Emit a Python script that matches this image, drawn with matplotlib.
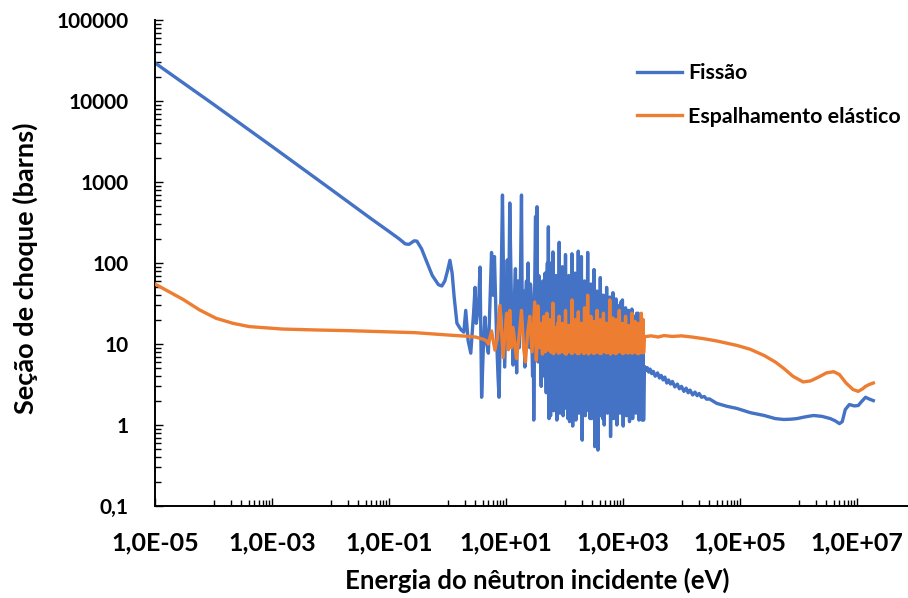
import numpy as np
import matplotlib
matplotlib.use("Agg")
import matplotlib.pyplot as plt
from matplotlib.ticker import FixedLocator, FuncFormatter, NullFormatter

plt.rcParams["font.family"] = ["Lato", "DejaVu Sans"]
plt.rcParams["font.weight"] = "bold"
plt.rcParams["path.simplify"] = False

# ---------------- U-235 cross sections (barns) vs neutron energy (eV) ----------------
# Fission: thermal / epithermal part
fis_thermal_E = [1e-5, 1e-4, 1e-3, 1e-2, 0.05, 0.1, 0.15, 0.19, 0.22, 0.27, 0.30, 0.36,
                 0.45, 0.55, 0.70, 0.80, 0.90, 1.0, 1.1, 1.2, 1.3, 1.45, 1.7, 1.9]
fis_thermal = [29500, 9100, 2750, 820, 350, 245, 198, 172, 170, 188, 186, 150,
               100, 70, 54, 52, 60, 80, 108, 75, 38, 18, 15, 14]

# Fission: isolated resonances (2 - 55 eV)
fis_lowres_E = [2.05, 2.25, 2.5, 2.8, 2.96, 3.1, 3.4, 3.6, 3.83, 4.1,
                4.36, 4.7, 5.0, 5.3, 5.66, 6.0, 6.35, 6.9, 7.3, 7.6,
                8.2, 8.7, 9.5, 10.5, 11.1, 11.6, 12.4,
                13.2, 13.8, 14.5, 14.9, 15.2, 15.6, 16.0, 16.4, 16.8, 17.5,
                18.4, 18.9, 19.3, 20.0, 21.0, 21.6, 22.4, 23.1, 23.9, 24.6,
                25.5, 26.2, 27.0, 27.7, 28.5, 29.2, 29.8, 31.0, 32.0, 32.5,
                33.0, 33.9, 34.6, 35.3, 36.4, 37.5, 38.7, 40.0, 41.2, 42.5,
                43.7, 45.0, 46.5, 47.5, 48.7, 49.8, 51.0, 52.0, 53.0, 53.8,
                54.5]
fis_lowres = [26, 11, 7.7, 25, 50, 18, 30, 89, 2.2, 9,
              21.5, 10, 7.7, 30, 135, 40, 120, 12, 4, 2.2,
              40, 690, 5.2, 109, 25, 550, 30,
              5.5, 30, 85, 12, 4.4, 25, 60, 15, 9, 40,
              690, 30, 20, 45, 5.2, 35, 60, 12, 100, 20,
              9, 55, 40, 10, 4, 25, 1.15, 60, 375, 20,
              15, 495, 12, 6, 70, 40, 10, 3.0, 45, 60,
              9, 4, 75, 15, 2.5, 50, 100, 12, 280, 20,
              1.2]

# Dense resolved-resonance region (56 eV - 2.25 keV), shared energy grid
res_E = [56, 57.8, 59.6, 61.4, 63.4, 65.4, 67.4, 69.6, 71.8, 74.0,
         76.3, 78.8, 81.2, 83.8, 86.4, 89.2, 92.0, 94.9, 97.9, 101,
         104, 107.5, 111, 114.5, 118, 122, 126, 130, 134, 138,
         142.5, 147, 151.5, 156.5, 161.5, 166.5, 172, 177, 183, 188.5,
         194.5, 200.5, 207, 213.5, 220, 227, 234, 241.5, 249, 257,
         265, 273.5, 282, 291, 300, 309.5, 319.5, 329.5, 340, 350.5,
         361.5, 373, 385, 397, 409.5, 422.5, 436, 449.5, 463.5, 478,
         493.5, 509, 525, 541.5, 558.5, 576, 594.5, 613, 632.5, 652.5,
         673, 694, 716, 738.5, 762, 786, 811, 836.5, 863, 890,
         918, 947, 977, 1008, 1040, 1072, 1106, 1141, 1177, 1214,
         1252, 1292, 1333, 1375, 1418, 1463, 1509, 1556, 1605, 1656,
         1708, 1762, 1818, 1875, 1934, 1995, 2058, 2123, 2190, 2250]
fis_res = [100, 1.3, 60, 2.0, 137, 1.5, 45, 1.8, 70, 1.15,
           55, 1.6, 180, 1.4, 65, 1.9, 90, 1.3, 50, 1.7,
           127, 1.6, 60, 1.2, 70, 1.1, 48, 1.9, 130, 0.97,
           55, 1.5, 75, 1.15, 60, 1.8, 140, 1.4, 45, 1.6,
           120, 0.65, 50, 1.5, 60, 1.3, 40, 1.7, 135, 1.5,
           48, 1.2, 55, 1.2, 42, 1.8, 83, 0.54, 38, 1.4,
           45, 0.49, 35, 1.6, 66, 1.3, 40, 1.2, 40, 1.0,
           33, 1.7, 50, 1.4, 36, 1.5, 38, 0.72, 30, 1.6,
           43, 1.2, 30, 1.7, 36, 1.0, 28, 1.5, 30, 1.4,
           33, 1.8, 35, 0.97, 26, 1.5, 28, 1.3, 25, 1.6,
           26, 1.1, 22, 1.6, 27, 1.2, 20, 1.7, 22, 1.4,
           24, 1.5, 24, 1.15, 19, 1.6, 21.5, 1.15, 20, 1.15]
ela_res = [20, 8.0, 15, 7.8, 32, 7.6, 14, 8.2, 16, 8.3,
           18, 7.7, 22, 7.8, 15, 8.1, 18, 8.1, 16, 7.6,
           26, 7.5, 16, 8.0, 17, 8.2, 15, 7.7, 35, 7.7,
           17, 8.1, 20, 8.0, 16, 7.6, 25, 7.6, 18, 8.0,
           18, 8.2, 17, 7.6, 28, 7.8, 16, 8.0, 40, 7.5,
           18, 7.9, 22, 8.1, 17, 7.7, 19, 7.7, 16, 8.0,
           26, 8.0, 17, 7.7, 20, 7.6, 16, 8.1, 24, 8.2,
           18, 7.8, 18, 7.8, 16, 8.0, 35, 7.5, 19, 7.9,
           21, 8.0, 16, 7.6, 20, 7.7, 17, 8.1, 26, 8.1,
           16, 7.8, 18, 7.6, 17, 8.0, 22, 7.9, 16, 7.7,
           17, 8.2, 16, 7.8, 24, 7.7, 17, 8.0, 19, 8.0,
           16, 7.6, 18, 7.6, 16, 8.1, 24, 7.8, 20, 7.8]

# Fission: unresolved and fast region
fis_fast_E = [2330, 2450, 2600, 2750, 2900, 3100, 3300, 3550, 3900, 4200,
              4500, 4850, 5200, 5600, 6000, 6500, 7000, 7700, 8500, 9200,
              1.0e4, 1.1e4, 1.2e4, 1.3e4, 1.4e4, 1.55e4, 1.7e4, 1.85e4, 2.0e4, 2.2e4,
              2.45e4, 2.7e4, 3.0e4, 4.0e4, 6.0e4, 8.9e4,
              1.5e5, 2.6e5, 4.0e5, 5.6e5, 7.5e5, 9.4e5, 1.3e6, 1.8e6, 2.5e6, 3.5e6,
              4.3e6, 5.0e6, 5.6e6, 6.3e6, 7.4e6, 9.0e6, 1.05e7, 1.2e7, 1.4e7, 1.6e7,
              1.9e7]
fis_fast = [5.3, 4.7, 5.1, 4.5, 4.9, 4.3, 4.6, 4.0, 4.4, 3.8,
            4.1, 3.6, 3.9, 3.3, 3.6, 3.2, 3.45, 2.95, 3.2, 2.8,
            3.0, 2.6, 2.85, 2.5, 2.7, 2.35, 2.55, 2.3, 2.45, 2.2,
            2.25, 2.08, 2.1, 1.85, 1.7, 1.6,
            1.42, 1.31, 1.2, 1.17, 1.18, 1.2, 1.26, 1.31, 1.28, 1.2,
            1.12, 1.04, 1.1, 1.55, 1.79, 1.72, 1.74, 1.95, 2.2, 2.1,
            2.0]

# Elastic scattering
ela_thermal_E = [1e-5, 3e-5, 5.8e-5, 1.1e-4, 2.15e-4, 4.1e-4, 1.5e-3, 5.6e-3,
                 0.021, 0.076, 0.28, 1.04, 2.0, 3.0, 4.0]
ela_thermal = [55, 35.6, 26.3, 20.8, 18.0, 16.4, 15.3, 14.9,
               14.6, 14.2, 13.8, 12.9, 12.5, 12.2, 11.5]
ela_lowres_E = [4.6, 5.0, 5.66, 6.47, 7.1, 7.87, 8.95, 10.2, 11.0, 11.6,
                12.4, 13.2, 15.1, 16.8, 18.4, 20.0, 21.5, 23.5, 25.5, 27.9,
                31.0, 33.0, 35.3, 37.5, 39.7, 42.0, 44.7, 47.0, 50.0, 53.0]
ela_lowres = [11.0, 10.0, 14.5, 8.4, 12, 30, 6.8, 24, 8.5, 26,
              9, 16, 6.6, 13, 26, 9, 6.0, 14, 22, 8,
              33, 6.3, 29.5, 9, 18, 7.5, 22, 8, 24, 8.4]
ela_fast_E = [2330, 3000, 4000, 5000, 7000, 1.0e4, 1.5e4, 2.45e4, 4.0e4, 8.9e4,
              1.5e5, 2.6e5, 4.0e5, 5.6e5, 8.0e5, 1.2e6, 1.6e6, 2.2e6, 3.0e6, 4.0e6,
              5.0e6, 6.5e6, 8.5e6, 1.05e7, 1.25e7, 1.4e7, 1.6e7, 1.9e7]
ela_fast = [12.3, 12.6, 12.2, 12.7, 12.4, 12.6, 12.2, 11.6, 10.9, 9.6,
            8.6, 7.2, 6.0, 5.0, 4.0, 3.4, 3.5, 3.9, 4.4, 4.55,
            4.2, 3.3, 2.75, 2.6, 2.8, 3.0, 3.15, 3.3]

series_labels = ["Fissão", "Espalhamento elástico"]
x_title = "Energia do nêutron incidente (eV)"
y_title = "Seção de choque (barns)"

# ---------------- assemble series ----------------
fis_E = np.concatenate([fis_thermal_E, fis_lowres_E, res_E, fis_fast_E])
fis_xs = np.concatenate([fis_thermal, fis_lowres, fis_res, fis_fast])
ela_E = np.concatenate([ela_thermal_E, ela_lowres_E, res_E, ela_fast_E])
ela_xs = np.concatenate([ela_thermal, ela_lowres, ela_res, ela_fast])

BLUE = "#4472C4"
ORANGE = "#ED7D31"

W, H = 908, 598
fig = plt.figure(figsize=(W / 100, H / 100), dpi=100)
fig.patch.set_facecolor("white")
ax = fig.add_axes([155 / W, 1 - 506 / H, (W - 155) / W, (506 - 20) / H])

ax.plot(fis_E, fis_xs, color=BLUE, lw=2.4, solid_joinstyle="round", label=series_labels[0], zorder=2)
ax.plot(ela_E, ela_xs, color=ORANGE, lw=2.4, solid_joinstyle="round", label=series_labels[1], zorder=3)

ax.set_xscale("log")
ax.set_yscale("log")
ax.set_xlim(1e-5, 10 ** (-5 + (W - 155) / 58.5))
ax.set_ylim(0.1, 1e5)

# axis styling
for side in ("top", "right"):
    ax.spines[side].set_visible(False)
for side in ("left", "bottom"):
    ax.spines[side].set_linewidth(1.4)
    ax.spines[side].set_color("black")

x_major = [10.0 ** k for k in range(-5, 9, 2)]
x_minor = [n * 10.0 ** k for k in range(-4, 8, 2) for n in range(1, 10)]
ax.xaxis.set_major_locator(FixedLocator(x_major))
ax.xaxis.set_minor_locator(FixedLocator(x_minor))
ax.xaxis.set_major_formatter(FuncFormatter(lambda v, p: f"{v:.1E}".replace(".", ",")))
ax.xaxis.set_minor_formatter(NullFormatter())

y_major = [10.0 ** k for k in range(-1, 6)]
y_minor = [n * 10.0 ** k for k in range(-1, 5) for n in range(2, 10)]
ax.yaxis.set_major_locator(FixedLocator(y_major))
ax.yaxis.set_minor_locator(FixedLocator(y_minor))
ax.yaxis.set_major_formatter(FuncFormatter(lambda v, p: "0,1" if v < 1 else f"{int(round(v))}"))
ax.yaxis.set_minor_formatter(NullFormatter())

ax.tick_params(axis="both", which="both", direction="in", color="black", width=1.0)
ax.tick_params(axis="both", which="major", length=5.5)
ax.tick_params(axis="both", which="minor", length=4.0)
ax.tick_params(axis="x", which="major", pad=18, labelsize=18)
ax.tick_params(axis="y", which="major", pad=19, labelsize=15)
for lab in ax.get_xticklabels() + ax.get_yticklabels():
    lab.set_fontweight("bold")

fig.text(537 / W, 1 - 580 / H, x_title, ha="center", va="center", fontsize=18.5, fontweight="bold")
fig.text(25 / W, 1 - 268 / H, y_title, ha="center", va="center", rotation=90,
         fontsize=19.5, fontweight="bold")

leg = ax.legend(loc="upper left", bbox_to_anchor=(637 / W, 1 - 63 / H), bbox_transform=fig.transFigure,
                frameon=False, borderpad=0, borderaxespad=0, handlelength=2.1, handletextpad=0.28,
                labelspacing=1.1, prop={"family": ["Lato", "DejaVu Sans"], "weight": "bold", "size": 15.4})

fig.savefig("out.png", dpi=100, facecolor="white")
